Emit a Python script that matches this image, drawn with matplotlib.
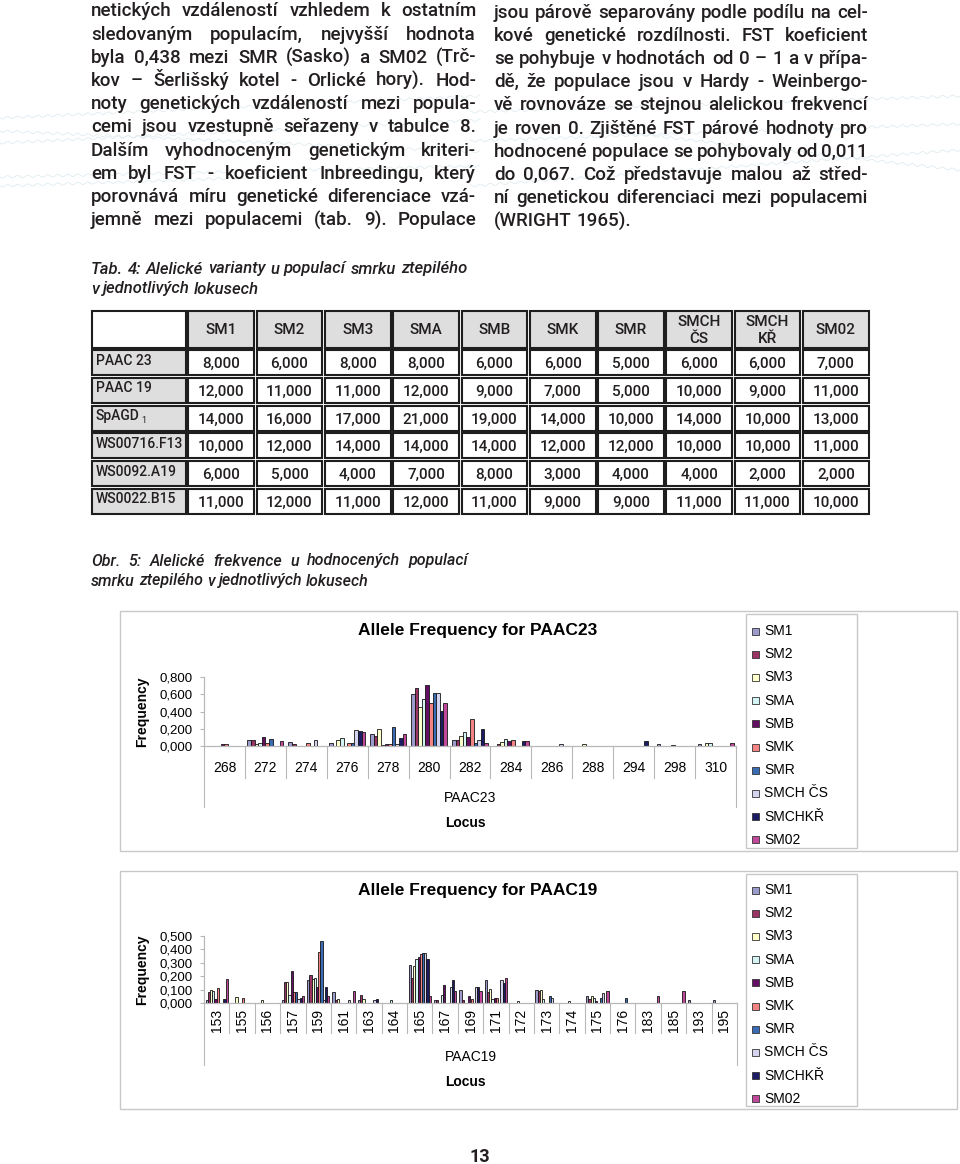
import numpy as np
import matplotlib
matplotlib.use('Agg')
import matplotlib.pyplot as plt
from matplotlib.patches import Rectangle

plt.rcParams['font.family'] = ['Liberation Sans', 'DejaVu Sans']

W, H = 960, 1164

# ---- data ----
populations = ['SM1', 'SM2', 'SM3', 'SMA', 'SMB', 'SMK', 'SMR', 'SMCH ČS', 'SMCHKŘ', 'SM02']
pop_colors = ['#9c9ccc', '#9a3464', '#ffffcc', '#d4f4f4', '#640f64', '#f48484',
              '#3a6cb4', '#d4d4f0', '#1c1c64', '#c0489a']

tab_cols = ['SM1', 'SM2', 'SM3', 'SMA', 'SMB', 'SMK', 'SMR', 'SMCH\nČS', 'SMCH\nKŘ', 'SM02']
tab_loci = ['PAAC 23', 'PAAC 19', 'SpAGD', 'WS00716.F13', 'WS0092.A19', 'WS0022.B15']
tab_values = [
    [8, 6, 8, 8, 6, 6, 5, 6, 6, 7],
    [12, 11, 11, 12, 9, 7, 5, 10, 9, 11],
    [14, 16, 17, 21, 19, 14, 10, 14, 10, 13],
    [10, 12, 14, 14, 14, 12, 12, 10, 10, 11],
    [6, 5, 4, 7, 8, 3, 4, 4, 2, 2],
    [11, 12, 11, 12, 11, 9, 9, 11, 11, 10],
]

# rows = alleles, columns = populations (same order as populations)
paac23_alleles = ['268', '272', '274', '276', '278', '280', '282', '284', '286', '288', '294', '298', '310']
paac23_freq = [
    [0, 0, 0, 0, 0.02, 0.02, 0, 0, 0, 0],
    [0.075, 0.075, 0.02, 0.03, 0.10, 0.03, 0.085, 0, 0, 0.06],
    [0.045, 0.02, 0, 0, 0, 0.03, 0, 0.07, 0, 0],
    [0.03, 0, 0.07, 0.09, 0, 0.03, 0.03, 0.18, 0.17, 0.16],
    [0.135, 0.12, 0.20, 0.01, 0.02, 0.02, 0.215, 0.02, 0.09, 0.14],
    [0.60, 0.67, 0.45, 0.55, 0.71, 0.50, 0.62, 0.62, 0.41, 0.50],
    [0.07, 0.07, 0.12, 0.16, 0.10, 0.31, 0.03, 0.07, 0.20, 0.04],
    [0, 0.02, 0.05, 0.08, 0.06, 0.07, 0, 0, 0.06, 0.06],
    [0, 0, 0, 0, 0, 0, 0, 0.02, 0, 0],
    [0, 0, 0.02, 0, 0, 0, 0, 0, 0, 0],
    [0, 0, 0, 0, 0, 0, 0, 0, 0.06, 0],
    [0.02, 0, 0, 0, 0.01, 0, 0, 0, 0, 0],
    [0.02, 0, 0.04, 0.03, 0, 0, 0, 0, 0, 0.03],
]
paac23_ticks = [0, 0.2, 0.4, 0.6, 0.8]

paac19_alleles = ['153', '155', '156', '157', '159', '161', '163', '164', '165', '167', '169',
                  '171', '172', '173', '174', '175', '176', '183', '185', '193', '195']
paac19_freq = [
    [0.02, 0.085, 0.10, 0.09, 0.03, 0.11, 0, 0, 0.03, 0.18],
    [0, 0, 0.045, 0, 0, 0.04, 0, 0, 0, 0],
    [0, 0, 0.025, 0, 0, 0, 0, 0, 0, 0],
    [0.02, 0.16, 0.155, 0.06, 0.24, 0.08, 0.08, 0.03, 0.04, 0.05],
    [0.17, 0.21, 0.18, 0.19, 0.12, 0.38, 0.46, 0.02, 0.12, 0.05],
    [0.08, 0.02, 0.03, 0, 0, 0, 0, 0.02, 0, 0.09],
    [0.02, 0.06, 0.03, 0, 0, 0, 0, 0.02, 0.03, 0],
    [0, 0, 0, 0.025, 0, 0, 0, 0, 0, 0],
    [0.28, 0.19, 0.275, 0.325, 0.345, 0.365, 0.375, 0.375, 0.325, 0.05],
    [0.02, 0.02, 0, 0.06, 0.135, 0, 0, 0.12, 0.175, 0.09],
    [0.10, 0.02, 0, 0, 0.055, 0.03, 0, 0.12, 0.12, 0.09],
    [0.17, 0.08, 0.105, 0.03, 0.04, 0.04, 0, 0.17, 0.15, 0.185],
    [0, 0, 0, 0.015, 0, 0, 0, 0, 0, 0],
    [0.10, 0.09, 0.10, 0.03, 0, 0, 0.05, 0.035, 0, 0],
    [0, 0, 0, 0.015, 0, 0, 0, 0, 0, 0],
    [0.05, 0.03, 0.05, 0.035, 0.015, 0, 0.04, 0.075, 0, 0.09],
    [0, 0, 0, 0, 0, 0, 0.04, 0, 0, 0],
    [0, 0, 0, 0, 0, 0, 0, 0, 0, 0.05],
    [0, 0, 0, 0, 0, 0, 0, 0, 0, 0.09],
    [0.025, 0, 0, 0, 0, 0, 0, 0, 0, 0],
    [0.02, 0, 0, 0, 0, 0, 0, 0, 0, 0],
]
paac19_ticks = [0, 0.1, 0.2, 0.3, 0.4, 0.5]

text_left = [
    "netických vzdáleností vzhledem k ostatním",
    "sledovaným populacím, nejvyšší hodnota",
    "byla 0,438 mezi SMR (Sasko) a SM02 (Trč-",
    "kov – Šerlišský kotel - Orlické hory). Hod-",
    "noty genetických vzdáleností mezi popula-",
    "cemi jsou vzestupně seřazeny v tabulce 8.",
    "Dalším vyhodnoceným genetickým kriteri-",
    "em byl FST - koeficient Inbreedingu, který",
    "porovnává míru genetické diferenciace vzá-",
    "jemně mezi populacemi (tab. 9). Populace",
]
text_right = [
    "jsou párově separovány podle podílu na cel-",
    "kové genetické rozdílnosti. FST koeficient",
    "se pohybuje v hodnotách od 0 – 1 a v přípa-",
    "dě, že populace jsou v Hardy - Weinbergo-",
    "vě rovnováze se stejnou alelickou frekvencí",
    "je roven 0. Zjištěné FST párové hodnoty pro",
    "hodnocené populace se pohybovaly od 0,011",
    "do 0,067. Což představuje malou až střed-",
    "ní genetickou diferenciaci mezi populacemi",
    "(WRIGHT 1965).",
]
tab_caption = ["Tab. 4: Alelické varianty u populací smrku ztepilého", "v jednotlivých lokusech"]
fig_caption = ["Obr. 5: Alelické frekvence u hodnocených populací", "smrku ztepilého v jednotlivých lokusech"]

# ---- page ----
fig = plt.figure(figsize=(W / 100, H / 100), dpi=100)
page = fig.add_axes([0, 0, 1, 1])
page.set_xlim(0, W)
page.set_ylim(H, 0)
page.axis('off')
rend = fig.canvas.get_renderer()

ink = '#231f20'

# faint wavy ornament behind the text
waves = [((0, 118), (480, 96)), ((0, 131), (480, 152)), ((0, 143), (480, 120)),
         ((0, 177), (480, 166)), ((0, 186), (300, 176)), ((470, 112), (960, 96)),
         ((470, 141), (960, 124)), ((470, 186), (960, 150)), ((600, 130), (960, 170))]
for (xa, ya), (xb, yb) in waves:
    xs = np.linspace(xa, xb, 400)
    ys = ya + (yb - ya) * (xs - xa) / (xb - xa) + 1.2 * np.sin(xs / 1.6)
    page.plot(xs, ys, color='#dae8ee', linewidth=0.5, zorder=0)


def justify(lines, x0, x1, y0, dy, base, last_left=True, **kw):
    for k, line in enumerate(lines):
        y = y0 + k * dy + base
        words = line.split(' ')
        texts = [page.text(0, y, w, va='baseline', ha='left', color=ink, **kw) for w in words]
        widths = [t.get_window_extent(rend).width for t in texts]
        if (k == len(lines) - 1 and last_left) or len(words) == 1:
            sp = page.text(0, y, 'a a', **kw)
            sp2 = page.text(0, y, 'aa', **kw)
            gap = sp.get_window_extent(rend).width - sp2.get_window_extent(rend).width
            sp.remove()
            sp2.remove()
        else:
            gap = (x1 - x0 - sum(widths)) / (len(words) - 1)
        x = x0
        for t, w in zip(texts, widths):
            t.set_x(x)
            x += w + gap


body = dict(family=['Roboto', 'DejaVu Sans'], fontsize=13.5, fontweight='medium')
justify(text_left, 91, 476, 11, 23.2, 5.5, last_left=False, **body)
justify(text_right, 494, 868, 12, 23.2, 5.5, **body)

cap = dict(family=['Roboto', 'DejaVu Sans'], style='italic', fontweight='medium')
justify(tab_caption, 91, 467, 269, 20, 4.5, fontsize=12, **cap)
justify(fig_caption, 91, 468, 561, 20, 4.5, fontsize=11.5, **cap)

# ---- table ----
tl, tc0, tr_ = 91, 187, 870
ttop, thead = 310, 349
tbot = 515
cw = (tr_ - tc0) / len(tab_cols)
rh = (tbot - thead) / len(tab_loci)
tfont = dict(family=['Roboto', 'DejaVu Sans'], fontsize=11, fontweight='medium', color=ink)
lfont = dict(family=['Roboto', 'DejaVu Sans'], fontsize=10, fontweight='medium', color=ink)


def cell(x, y, w, h, fc):
    page.add_patch(Rectangle((x + 1.3, y + 1.3), w - 2.6, h - 2.6, facecolor=fc,
                             edgecolor='#1e1e1e', linewidth=1.5))


cell(tl, ttop, tc0 - tl, thead - ttop, 'white')
for j, name in enumerate(tab_cols):
    cx = tc0 + j * cw
    cell(cx, ttop, cw, thead - ttop, '#dedede')
    page.text(cx + cw / 2, (ttop + thead) / 2 + 1, name, ha='center', va='center',
              linespacing=1.3, **tfont)
for i, loc in enumerate(tab_loci):
    ry = thead + i * rh
    cell(tl, ry, tc0 - tl, rh, '#dedede')
    t = page.text(tl + 5, ry + rh / 2 + 2, loc, ha='left', va='baseline', **lfont)
    if loc == 'SpAGD':
        wpx = t.get_window_extent(rend).width
        page.text(tl + 5 + wpx + 1, ry + rh / 2 + 5, '1', ha='left', va='baseline',
                  family=['Roboto', 'DejaVu Sans'], fontsize=6.5, color=ink)
    for j, v in enumerate(tab_values[i]):
        cx = tc0 + j * cw
        cell(cx, ry, cw, rh, 'white')
        page.text(cx + cw / 2, ry + rh / 2 + 5.5, f"{v:.3f}".replace('.', ','),
                  ha='center', va='baseline', **tfont)


# ---- charts ----
def px_axes(x0, y0, x1, y1):
    return fig.add_axes([x0 / W, 1 - y1 / H, (x1 - x0) / W, (y1 - y0) / H])


grid_c = '#b8b8b8'


def allele_chart(box, plot, alleles, freq, ticks, locus, title_y, lab_off, rotate,
                 inner, outer, locus_y, title_x, freq_y, leg_box, leg_y0):
    # frame + legend box
    bx0, by0, bx1, by1 = box
    page.add_patch(Rectangle((bx0, by0), bx1 - bx0, by1 - by0, fill=False,
                             edgecolor='#c8c8c8', linewidth=1.0))
    lx0, ly0, lx1, ly1 = leg_box
    page.add_patch(Rectangle((lx0, ly0), lx1 - lx0, ly1 - ly0, facecolor='white',
                             edgecolor='#c8c8c8', linewidth=1.0))
    for k, (pop, col) in enumerate(zip(populations, pop_colors)):
        yy = leg_y0 + k * 23.2
        page.add_patch(Rectangle((752, yy - 3.5), 7, 7, facecolor=col,
                                 edgecolor='#333333', linewidth=0.6))
        page.text(764, yy, pop, ha='left', va='center', fontsize=10, color='black')

    x0, y0, x1, y1 = plot
    ax = px_axes(x0, y0, x1, y1)
    n = len(alleles)
    k = len(populations)
    bw = 0.088
    for j, col in enumerate(populations):
        xs = [i - bw * k / 2 + bw * (j + 0.5) for i in range(n) if freq[i][j] > 0]
        hs = [freq[i][j] for i in range(n) if freq[i][j] > 0]
        ax.bar(xs, hs, width=bw, color=pop_colors[j], edgecolor='#151515', linewidth=0.6)
    ax.set_xlim(-0.5, n - 0.5)
    ax.set_ylim(0, ticks[-1])
    ax.set_yticks(ticks)
    ax.set_yticklabels([f"{v:.3f}".replace('.', ',') for v in ticks], fontsize=9.5)
    ax.set_xticks([])
    ax.tick_params(axis='y', length=3, width=0.8, color=grid_c, pad=5)
    for s in ('top', 'right'):
        ax.spines[s].set_visible(False)
    for s in ('left', 'bottom'):
        ax.spines[s].set_color(grid_c)
        ax.spines[s].set_linewidth(0.9)
    ax.patch.set_alpha(0)

    hpx = y1 - y0
    tr = ax.get_xaxis_transform()
    for b in range(n + 1):
        depth = outer if b in (0, n) else inner
        ax.plot([b - 0.5, b - 0.5], [0, -depth / hpx], transform=tr, color=grid_c,
                linewidth=0.8, clip_on=False)
    for i, a in enumerate(alleles):
        ax.text(i, -lab_off / hpx, a, transform=tr, ha='center', va='center',
                rotation=90 if rotate else 0, fontsize=10)

    page.text(title_x, title_y, 'Allele Frequency for ' + locus, ha='center',
              va='center', fontsize=12.5, fontweight='bold')
    page.text((x0 + x1) / 2, locus_y, locus, ha='center', va='center', fontsize=10)
    page.text((x0 + x1) / 2 - 5, locus_y + 25, 'Locus', ha='center', va='center',
              fontsize=10, fontweight='bold')
    page.text(142, freq_y, 'Frequency', ha='center', va='center', rotation=90,
              fontsize=10, fontweight='bold')


allele_chart((120, 611, 957, 851), (204, 677, 736, 746), paac23_alleles, paac23_freq,
             paac23_ticks, 'PAAC23', 631, 22, False, 32, 61, 798, 478, 712,
             (746, 614, 857, 848), 631)
allele_chart((120, 871, 957, 1109), (204, 936, 737, 1003), paac19_alleles, paac19_freq,
             paac19_ticks, 'PAAC19', 891, 17, True, 30, 62, 1057, 478, 970,
             (746, 874, 857, 1106), 890)

page.text(480, 1157, '13', ha='center', va='center', fontsize=13, fontweight='bold',
          family=['Roboto', 'DejaVu Sans'], color=ink)

fig.savefig('out.png', dpi=100)
